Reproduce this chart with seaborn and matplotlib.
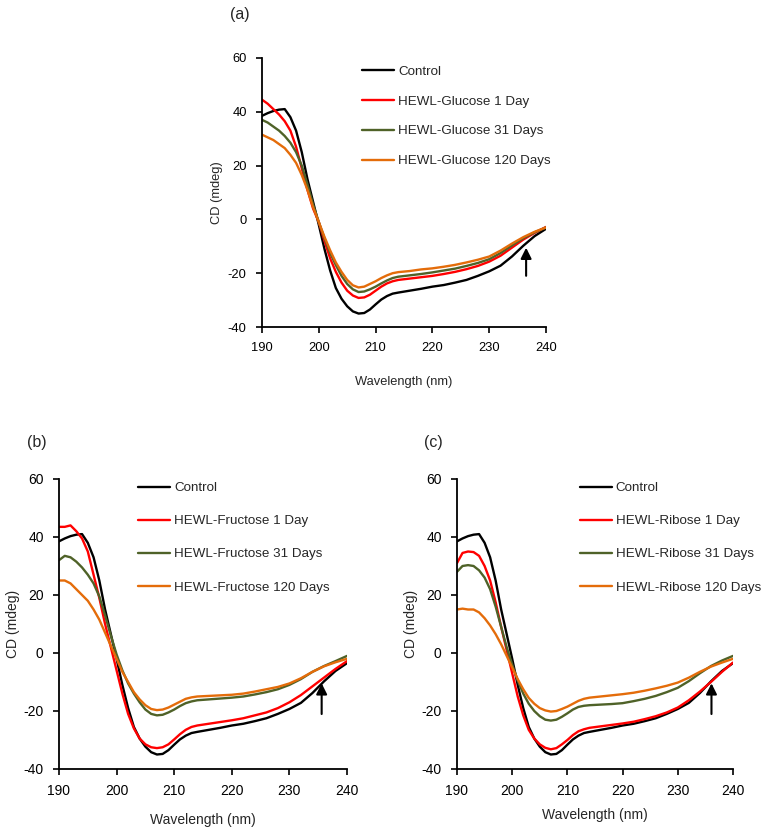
import numpy as np
import pandas as pd
import matplotlib
matplotlib.use("Agg")
import matplotlib.pyplot as plt
import seaborn as sns

sns.set_style("ticks")
plt.rcParams['font.family'] = ['Liberation Sans', 'DejaVu Sans']

# ---------------- data ----------------
wavelength = [190, 191, 192, 193, 194, 195, 196, 197, 198, 199, 200, 201, 202, 203,
              204, 205, 206, 207, 208, 209, 210, 211, 212, 213, 214, 216, 218, 220,
              222, 224, 226, 228, 230, 232, 234, 236, 238, 240]

control = [38.5, 39.5, 40.3, 40.8, 41.0, 38.0, 33.0, 25.0, 15.0, 6.5, -2.0, -11.0, -19.0, -25.5,
           -29.5, -32.3, -34.2, -35.0, -34.8, -33.5, -31.6, -29.8, -28.5, -27.6, -27.2, -26.5, -25.8, -25.0,
           -24.4, -23.5, -22.5, -21.0, -19.3, -17.2, -13.8, -9.8, -6.2, -3.5]

glucose_1 = [44.5, 43.0, 41.0, 39.0, 36.5, 33.0, 27.0, 19.0, 11.0, 4.0, -1.0, -8.0, -14.5, -19.5,
             -23.5, -26.5, -28.3, -29.2, -29.0, -28.0, -26.5, -25.0, -23.8, -23.0, -22.5, -22.0, -21.5, -21.0,
             -20.3, -19.5, -18.5, -17.3, -15.7, -13.5, -10.5, -7.5, -5.0, -2.8]
glucose_31 = [37.0, 36.0, 34.5, 33.0, 31.0, 28.5, 25.0, 20.0, 13.0, 5.5, -1.0, -7.0, -12.5, -17.0,
              -21.0, -24.0, -26.0, -27.0, -26.8, -26.0, -25.0, -23.8, -22.7, -21.8, -21.3, -20.8, -20.3, -19.7,
              -19.0, -18.3, -17.3, -16.2, -14.8, -12.5, -9.7, -7.0, -4.8, -3.0]
glucose_120 = [31.5, 30.5, 29.5, 28.0, 26.5, 24.0, 21.0, 16.5, 11.0, 4.5, -1.0, -6.5, -11.5, -16.0,
               -19.5, -22.5, -24.5, -25.3, -25.0, -24.0, -23.0, -21.8, -20.8, -20.0, -19.6, -19.2, -18.6, -18.2,
               -17.6, -16.9, -16.0, -15.0, -13.8, -11.6, -9.0, -6.6, -4.6, -3.0]

fructose_1 = [43.5, 43.5, 44.0, 42.0, 39.5, 35.0, 27.0, 19.0, 10.0, 2.0, -6.0, -14.0, -21.0, -26.0,
              -29.5, -31.5, -32.5, -32.8, -32.5, -31.5, -29.8, -28.0, -26.5, -25.5, -25.0, -24.4, -23.8, -23.2,
              -22.5, -21.5, -20.5, -19.0, -17.0, -14.5, -11.5, -8.5, -5.5, -2.8]
fructose_31 = [32.0, 33.5, 33.0, 31.5, 29.5, 27.0, 24.0, 19.5, 13.0, 6.0, -0.5, -6.0, -10.5, -14.0,
               -17.0, -19.5, -21.0, -21.5, -21.3, -20.5, -19.5, -18.3, -17.3, -16.7, -16.3, -16.0, -15.7, -15.4,
               -15.0, -14.3, -13.5, -12.5, -11.0, -9.0, -6.5, -4.5, -2.8, -1.0]
fructose_120 = [25.0, 25.0, 24.0, 22.0, 20.0, 18.0, 15.0, 11.5, 7.0, 2.5, -2.0, -6.5, -10.0, -13.5,
                -16.0, -18.0, -19.3, -19.7, -19.5, -18.8, -17.8, -16.8, -15.8, -15.3, -15.0, -14.8, -14.6, -14.4,
                -14.0, -13.3, -12.5, -11.7, -10.5, -8.7, -6.5, -4.6, -3.2, -2.0]

ribose_1 = [31.0, 34.5, 35.0, 34.8, 33.5, 30.0, 25.0, 17.5, 9.0, 1.0, -7.0, -15.0, -21.5, -26.5,
            -29.5, -31.5, -32.7, -33.2, -32.8, -31.5, -30.0, -28.3, -27.0, -26.3, -25.8, -25.3, -24.8, -24.3,
            -23.7, -22.8, -21.8, -20.5, -18.8, -16.3, -13.3, -10.0, -6.5, -3.3]
ribose_31 = [28.0, 30.0, 30.3, 30.0, 28.5, 26.0, 22.0, 16.0, 9.0, 2.0, -4.0, -9.5, -14.0, -17.5,
             -20.0, -21.8, -23.0, -23.3, -23.0, -22.0, -20.8, -19.5, -18.6, -18.2, -18.0, -17.8, -17.6, -17.3,
             -16.6, -15.8, -14.8, -13.5, -12.0, -9.7, -7.0, -4.5, -2.6, -1.0]
ribose_120 = [15.0, 15.3, 15.0, 15.0, 14.0, 12.0, 9.5, 6.5, 3.0, -1.0, -5.0, -9.0, -12.5, -15.5,
              -17.5, -19.0, -19.8, -20.2, -20.0, -19.3, -18.5, -17.5, -16.5, -15.8, -15.4, -15.0, -14.6, -14.2,
              -13.7, -13.0, -12.2, -11.3, -10.2, -8.5, -6.5, -4.7, -3.3, -2.0]

x_ticks = [190, 200, 210, 220, 230, 240]
y_ticks = [-40, -20, 0, 20, 40, 60]
colors = ["#000000", "#FF0000", "#4F6228", "#E46C0A"]


def panel(fig, rect_px, sugar, series, letter, leg_x, leg_y, leg_space, xlab_off, ylab_off,
          arrow_x, letter_xy, fs):
    W, H = 766, 835
    l, t, r, b = rect_px
    ax = fig.add_axes([l / W, 1 - b / H, (r - l) / W, (b - t) / H])
    names = ["Control", f"HEWL-{sugar} 1 Day", f"HEWL-{sugar} 31 Days", f"HEWL-{sugar} 120 Days"]
    frames = []
    for n, v in zip(names, series):
        frames.append(pd.DataFrame({"Wavelength": wavelength, "CD": v, "Sample": n}))
    df = pd.concat(frames, ignore_index=True)
    sns.lineplot(data=df, x="Wavelength", y="CD", hue="Sample", hue_order=names,
                 palette=dict(zip(names, colors)), linewidth=1.7, ax=ax, sort=False)
    ax.set_xlim(190, 240)
    ax.set_ylim(-40, 60)
    ax.set_xticks(x_ticks)
    ax.set_yticks(y_ticks)
    ax.set_xticklabels([str(v) for v in x_ticks])
    ax.set_yticklabels([str(v) for v in y_ticks])
    ax.tick_params(axis="both", direction="out", length=4, width=1.2, labelsize=fs,
                   colors="black", pad=7)
    for s in ["top", "right"]:
        ax.spines[s].set_visible(False)
    for s in ["left", "bottom"]:
        ax.spines[s].set_linewidth(1.3)
        ax.spines[s].set_color("black")
    ax.set_xlabel("Wavelength (nm)", fontsize=fs)
    ax.set_ylabel("CD (mdeg)", fontsize=fs)
    h_px = b - t
    w_px = r - l
    ax.xaxis.set_label_coords(0.5, -xlab_off / h_px)
    ax.yaxis.set_label_coords(-ylab_off / w_px, 0.5)
    leg = ax.legend(loc="upper left", bbox_to_anchor=(leg_x, leg_y), frameon=False,
                    fontsize=9.6, handlelength=2.4, handletextpad=0.3,
                    labelspacing=leg_space, borderpad=0, borderaxespad=0)
    for line in leg.get_lines():
        line.set_linewidth(1.7)
    ax.annotate("", xy=(arrow_x, -9.5), xytext=(arrow_x, -22),
                arrowprops=dict(arrowstyle="-|>", color="black", lw=1.5, mutation_scale=16))
    fig.text(letter_xy[0] / W, 1 - letter_xy[1] / H, letter, fontsize=11.5,
             ha="center", va="center")
    return ax


fig = plt.figure(figsize=(7.66, 8.35), dpi=100)

panel(fig, (262, 58, 546, 327), "Glucose", [control, glucose_1, glucose_31, glucose_120],
      "(a)", 0.352, 0.972, 1.31, 49, 39, 236.5, (240, 15), 9.3)
panel(fig, (59, 479, 347, 769), "Fructose", [control, fructose_1, fructose_31, fructose_120],
      "(b)", 0.274, 0.99, 1.56, 44, 39, 235.6, (37, 442), 10)
panel(fig, (457, 479, 733, 769), "Ribose", [control, ribose_1, ribose_31, ribose_120],
      "(c)", 0.444, 0.99, 1.56, 39, 39, 236.1, (433, 442), 10)

fig.savefig("out.png", dpi=100)
